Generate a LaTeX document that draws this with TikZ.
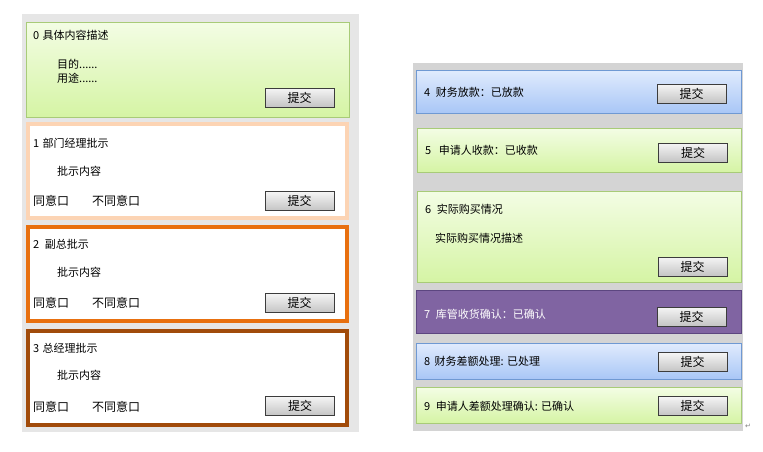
\documentclass[tikz,border=0pt]{standalone}
\usepackage{fontspec}
\usepackage{tikz}
\usetikzlibrary{positioning}
\newfontfamily\cjk{Noto Sans CJK SC}
\newfontfamily\symfont{DejaVu Sans}
\definecolor{PanelL}{HTML}{E6E6E6}
\definecolor{PanelR}{HTML}{D4D4D4}
\definecolor{GreenTop}{HTML}{F3FDE4}
\definecolor{GreenBot}{HTML}{D5F4A4}
\definecolor{GreenLine}{HTML}{A8CB78}
\definecolor{BlueTop}{HTML}{E0EBFD}
\definecolor{BlueBot}{HTML}{A8C6F6}
\definecolor{BlueLine}{HTML}{6F99D3}
\definecolor{Purple}{HTML}{8064A2}
\definecolor{PurpleLine}{HTML}{5C4680}
\definecolor{Peach}{HTML}{FCD4B4}
\definecolor{Orange}{HTML}{E8700F}
\definecolor{Brown}{HTML}{A14B0A}
\definecolor{BtnTop}{HTML}{F5F5F5}
\definecolor{BtnBot}{HTML}{C4C4C4}
\definecolor{BtnLine}{HTML}{3C3C3C}

\begin{document}
\begin{tikzpicture}[x=1pt,y=-1pt,
  every node/.style={font=\cjk\fontsize{11}{13}\selectfont,inner sep=0pt},
  greenbox/.style={draw=GreenLine,line width=0.8pt,top color=GreenTop,bottom color=GreenBot,anchor=north west},
  bluebox/.style={draw=BlueLine,line width=0.8pt,top color=BlueTop,bottom color=BlueBot,anchor=north west},
  framebox/.style={line width=4pt,fill=white,anchor=north west,minimum width=319pt,minimum height=94pt},
  btn/.style={draw=BtnLine,line width=0.8pt,top color=BtnTop,bottom color=BtnBot,minimum width=69pt,minimum height=19pt,font=\cjk\fontsize{12}{14}\selectfont},
  lbl/.style={anchor=west},
  vote/.style={anchor=west,font=\cjk\fontsize{12}{14}\selectfont}]
  \useasboundingbox (0,0) rectangle (763,452);
  % panels
  \fill[PanelL] (22,14) rectangle (359,432);
  \fill[PanelR] (413,63) rectangle (743,431);

  % left column
  \node[greenbox,minimum width=323pt,minimum height=95pt] (box0) at (26,22) {};
  \node[lbl] (t0) at (33,35) {0\hspace{0.3em}具体内容描述};
  \node[lbl] (d0a) at (57,64) {目的......};
  \node[lbl] (d0b) at (57,78) {用途......};
  \node[btn] (btn0) at (299.5,97.5) {提交};

  \node[framebox,draw=Peach] (box1) at (26,122) {};
  \node[lbl] (t1) at (33,143) {1\hspace{0.3em}部门经理批示};
  \node[lbl] (d1) at (57,171) {批示内容};
  \node[vote] (y1) at (33,201) {同意口};
  \node[vote] (n1) at (92,201) {不同意口};
  \node[btn] (btn1) at (299.5,201) {提交};

  \node[framebox,draw=Orange] (box2) at (26,225) {};
  \node[lbl] (t2) at (33,244) {2\hspace{0.5em}副总批示};
  \node[lbl] (d2) at (57,272) {批示内容};
  \node[vote] (y2) at (33,303) {同意口};
  \node[vote] (n2) at (92,303) {不同意口};
  \node[btn] (btn2) at (299.5,303) {提交};

  \node[framebox,draw=Brown] (box3) at (26,329) {};
  \node[lbl] (t3) at (33,348) {3\hspace{0.3em}总经理批示};
  \node[lbl] (d3) at (57,375) {批示内容};
  \node[vote] (y3) at (33,407) {同意口};
  \node[vote] (n3) at (92,407) {不同意口};
  \node[btn] (btn3) at (300,406) {提交};

  % right column
  \node[bluebox,minimum width=325pt,minimum height=43pt] (box4) at (416,70) {};
  \node[lbl] (t4) at (424,92) {4\hspace{0.5em}财务放款：已放款};
  \node[btn] (btn4) at (691.5,93.5) {提交};

  \node[greenbox,minimum width=324pt,minimum height=44pt] (box5) at (417,128) {};
  \node[lbl] (t5) at (425,150) {5\hspace{0.7em}申请人收款：已收款};
  \node[btn] (btn5) at (693,152.5) {提交};

  \node[greenbox,minimum width=324pt,minimum height=91pt] (box6) at (417,191) {};
  \node[lbl] (t6) at (425,209) {6\hspace{0.5em}实际购买情况};
  \node[lbl] (d6) at (435,238) {实际购买情况描述};
  \node[btn] (btn6) at (692.5,266.5) {提交};

  \node[draw=PurpleLine,line width=0.8pt,fill=Purple,anchor=north west,minimum width=325pt,minimum height=43pt] (box7) at (416,290) {};
  \node[lbl,text=white] (t7) at (424,314) {7\hspace{0.5em}库管收货确认：已确认};
  \node[btn] (btn7) at (691.5,316.5) {提交};

  \node[bluebox,minimum width=325pt,minimum height=36pt] (box8) at (416,343) {};
  \node[lbl] (t8) at (424,361) {8\hspace{0.4em}财务差额处理: 已处理};
  \node[btn] (btn8) at (692.5,362) {提交};

  \node[greenbox,minimum width=325pt,minimum height=36pt] (box9) at (416,387) {};
  \node[lbl] (t9) at (424,406) {9\hspace{0.5em}申请人差额处理确认: 已确认};
  \node[btn] (btn9) at (692.5,406) {提交};

  \node[text=gray,font=\symfont\fontsize{7}{8}\selectfont] (mark) at (748,426) {↵};
\end{tikzpicture}
\end{document}
